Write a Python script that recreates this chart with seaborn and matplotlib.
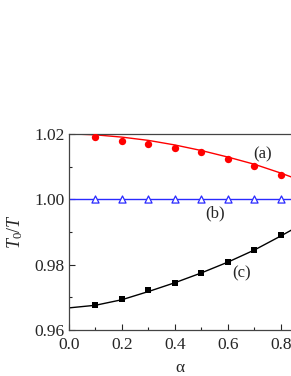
import matplotlib
matplotlib.use('Agg')
import matplotlib.pyplot as plt
import seaborn as sns
import pandas as pd
from matplotlib.ticker import MultipleLocator, FormatStrFormatter

sns.set_style('ticks')
plt.rcParams['font.family'] = ['Liberation Serif', 'DejaVu Serif']
plt.rcParams['mathtext.fontset'] = 'custom'
plt.rcParams['mathtext.it'] = 'Liberation Serif:italic'
plt.rcParams['mathtext.rm'] = 'Liberation Serif'

# markers
alpha_pts = [0.1, 0.2, 0.3, 0.4, 0.5, 0.6, 0.7, 0.8]
a_pts = [1.0189, 1.0179, 1.0169, 1.0158, 1.0144, 1.0122, 1.0101, 1.0075]
b_pts = [1.0000, 1.0000, 1.0000, 1.0000, 1.0000, 1.0000, 1.0000, 1.0000]
c_pts = [0.9678, 0.9696, 0.9722, 0.9744, 0.9774, 0.9807, 0.9846, 0.9890]

# fitted curves
alpha_line = [0.0, 0.1, 0.2, 0.3, 0.4, 0.5, 0.6, 0.7, 0.8, 0.84]
a_line = [1.0200, 1.0197, 1.0190, 1.0180, 1.0166, 1.0149, 1.0129, 1.0107, 1.0080, 1.0068]
b_line = [1.0000, 1.0000, 1.0000, 1.0000, 1.0000, 1.0000, 1.0000, 1.0000, 1.0000, 1.0000]
c_line = [0.9668, 0.9676, 0.9693, 0.9718, 0.9745, 0.9775, 0.9808, 0.9845, 0.9888, 0.9906]

pts = pd.DataFrame({'alpha': alpha_pts, 'a': a_pts, 'b': b_pts, 'c': c_pts})
lines = pd.DataFrame({'alpha': alpha_line, 'a': a_line, 'b': b_line, 'c': c_line})

fig = plt.figure(figsize=(2.91, 3.76), dpi=100)
ax = fig.add_axes([0.237, 0.122, 0.763, 0.522])

sns.lineplot(data=lines, x='alpha', y='a', color='red', lw=1.0, ax=ax)
sns.lineplot(data=lines, x='alpha', y='b', color='#2a2aff', lw=1.0, ax=ax)
sns.lineplot(data=lines, x='alpha', y='c', color='black', lw=1.0, ax=ax)

ax.scatter(pts['alpha'], pts['a'], s=28, marker='o', color='red', zorder=3, linewidths=0)
ax.scatter(pts['alpha'], pts['b'], s=26, marker='^', facecolor='white', edgecolor='#2a2aff', zorder=3, linewidths=0.9)
ax.scatter(pts['alpha'], pts['c'], s=22, marker='s', color='black', zorder=3, linewidths=0)

ax.text(0.73, 1.0136, '(a)', fontsize=12, ha='center', va='center')
ax.text(0.55, 0.9958, '(b)', fontsize=12, ha='center', va='center')
ax.text(0.65, 0.9774, '(c)', fontsize=12, ha='center', va='center')

ax.set_xlim(0, 0.838)
ax.set_ylim(0.96, 1.02)
ax.xaxis.set_major_locator(MultipleLocator(0.2))
ax.xaxis.set_minor_locator(MultipleLocator(0.1))
ax.yaxis.set_major_locator(MultipleLocator(0.02))
ax.yaxis.set_minor_locator(MultipleLocator(0.01))
ax.xaxis.set_major_formatter(FormatStrFormatter('%.1f'))
ax.yaxis.set_major_formatter(FormatStrFormatter('%.2f'))
ax.tick_params(which='major', direction='in', length=4, width=0.8, labelsize=12.5, pad=3)
ax.tick_params(axis='x', which='major', pad=5)
ax.tick_params(which='minor', direction='in', length=2.5, width=0.8)
ax.tick_params(top=False, right=False, which='both')

for s in ['left', 'bottom', 'top']:
    ax.spines[s].set_color('#444444')
    ax.spines[s].set_linewidth(0.9)
ax.spines['right'].set_visible(False)

ax.set_xlabel('α', fontsize=12.5, labelpad=5)
ax.set_ylabel('$T_0/T$', fontsize=13, labelpad=7)

fig.savefig('out.png', dpi=100)
